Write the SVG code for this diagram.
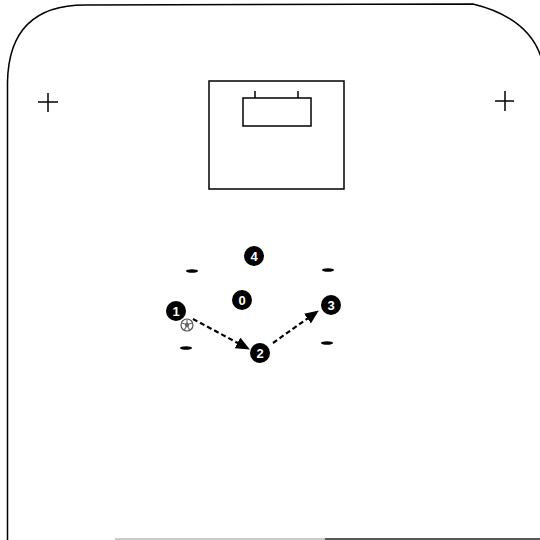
<svg xmlns="http://www.w3.org/2000/svg" width="540" height="540" viewBox="0 0 540 540">
<style>
.line{fill:none;stroke:#000;stroke-width:1.5}
.player circle{fill:#000}
.player text{fill:#fff;font-family:"Liberation Sans",Arial,sans-serif;font-weight:bold;font-size:13px;text-anchor:middle}
.cone{fill:#000}
.pass{fill:none;stroke:#000;stroke-width:2.2;stroke-dasharray:5,3;marker-end:url(#ah)}
</style>
<defs>
<marker id="ah" viewBox="0 0 14 12" refX="13" refY="6" markerWidth="14" markerHeight="12" markerUnits="userSpaceOnUse" orient="auto">
<path d="M0,0 L14,6 L0,12 Z" fill="#000"/>
</marker>
</defs>
<rect width="540" height="540" fill="#fff"/>
<g id="field">
<path class="line" d="M7.5,540 L7.5,82 Q9,5 85,5 L473,4 Q530,18 542,60"/>
<line x1="115" y1="539" x2="540" y2="539" stroke="#bbb" stroke-width="1.5"/>
<line x1="325" y1="539" x2="540" y2="539" stroke="#333" stroke-width="1.5"/>
</g>
<g id="goal">
<rect class="line" x="209" y="81" width="135" height="108"/>
<rect class="line" x="243" y="98" width="68" height="28" stroke-width="2"/>
<line class="line" x1="255" y1="91" x2="255" y2="98" stroke-width="1"/>
<line class="line" x1="298" y1="91" x2="298" y2="98" stroke-width="2"/>
</g>
<g id="cross-left">
<line class="line" x1="38" y1="102" x2="58" y2="102" stroke-width="1.2"/>
<line class="line" x1="48" y1="93" x2="48" y2="112" stroke-width="1.2"/>
</g>
<g id="cross-right">
<line class="line" x1="495" y1="101" x2="514" y2="101" stroke-width="1.5"/>
<line class="line" x1="505" y1="91" x2="505" y2="111" stroke-width="1.5"/>
</g>
<g id="cones">
<ellipse class="cone" cx="192" cy="271" rx="6" ry="1.8"/>
<ellipse class="cone" cx="328" cy="270" rx="6" ry="1.8"/>
<ellipse class="cone" cx="186" cy="348" rx="6" ry="1.8"/>
<ellipse class="cone" cx="327" cy="343" rx="6" ry="1.8"/>
</g>
<g id="connectors">
<line class="pass" x1="193" y1="319" x2="249" y2="349"/>
<line class="pass" x1="273" y1="343" x2="318" y2="311"/>
</g>
<g id="ball">
<circle cx="187" cy="325" r="6" fill="#fff" stroke="#555" stroke-width="1.2"/>
<circle cx="187" cy="325" r="2.2" fill="#666"/>
<path d="M181.5,323 L185,324 M192.5,323 L189,324 M184,330.5 L186,327 M190,330.5 L188,327 M187,319.5 L187,323" stroke="#666" stroke-width="1.2"/>
</g>
<g id="p4" class="player"><circle cx="254" cy="256" r="10"/><text x="254" y="260.5">4</text></g>
<g id="p0" class="player"><circle cx="242" cy="300" r="10"/><text x="242" y="304.5">0</text></g>
<g id="p1" class="player"><circle cx="176" cy="311" r="10"/><text x="176" y="315.5">1</text></g>
<g id="p2" class="player"><circle cx="260" cy="353" r="10"/><text x="260" y="357.5">2</text></g>
<g id="p3" class="player"><circle cx="331" cy="305" r="10"/><text x="331" y="309.5">3</text></g>
</svg>
